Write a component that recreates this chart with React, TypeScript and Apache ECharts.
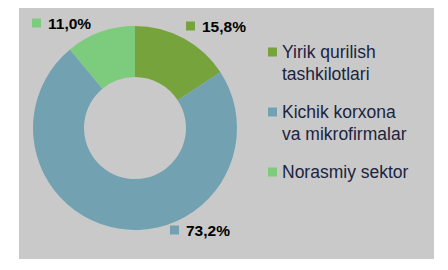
import React, { useEffect, useRef } from "react";
import * as echarts from "echarts";

const categories = ["Yirik qurilish tashkilotlari", "Kichik korxona va mikrofirmalar", "Norasmiy sektor"];
const legendLines = [["Yirik qurilish", "tashkilotlari"], ["Kichik korxona", "va mikrofirmalar"], ["Norasmiy sektor"]];
const values = [15.8, 73.2, 11.0];
const colors = ["#76a33c", "#72a2b1", "#7dcb7c"];

const labelPos = [
  { x: 186, y: 26 },
  { x: 170, y: 230 },
  { x: 32, y: 23 },
];
const legendTops = [19, 79, 161];

export default function App() {
  const ref = useRef<HTMLDivElement>(null);
  useEffect(() => {
    if (!ref.current) return;
    const chart = echarts.init(ref.current, undefined, { renderer: "svg" });
    const rich: any = {
      v: { fontFamily: "Liberation Sans", fontSize: 15.5, fontWeight: "bold", color: "#000", padding: [0, 0, 0, 7] },
    };
    colors.forEach((c, i) => {
      rich["m" + i] = { width: 9, height: 9, backgroundColor: c };
    });
    const legends = categories.map((name, i) => ({
      orient: "vertical",
      left: 268,
      top: legendTops[i],
      padding: 0,
      itemWidth: 9,
      itemHeight: 9,
      icon: "rect",
      selectedMode: false,
      data: [name],
      textStyle: {
        fontFamily: "Liberation Sans",
        fontSize: 17.5,
        color: "#1b2440",
        lineHeight: 22,
      },
      formatter: (n: string) => {
        const lines = legendLines[categories.indexOf(n)];
        return lines.length > 1 ? "\n" + lines.join("\n") : lines[0];
      },
    }));
    chart.setOption({
      animation: false,
      backgroundColor: "#ffffff",
      graphic: [
        { type: "rect", z: -10, shape: { x: 19, y: 8, width: 415, height: 251 }, style: { fill: "#c9c9c9" } },
      ],
      legend: legends,
      series: [
        {
          type: "pie",
          center: [135, 128],
          radius: [51, 102],
          startAngle: 90,
          clockwise: true,
          avoidLabelOverlap: false,
          labelLine: { show: false },
          label: {
            show: true,
            position: "outside",
            formatter: (p: any) => `{m${p.dataIndex}|}{v|${p.value.toFixed(1).replace(".", ",")}%}`,
            rich,
          },
          labelLayout: (p: any) => ({
            x: labelPos[p.dataIndex].x,
            y: labelPos[p.dataIndex].y,
            align: "left",
            verticalAlign: "middle",
          }),
          emphasis: { disabled: true },
          data: categories.map((name, i) => ({ name, value: values[i], itemStyle: { color: colors[i] } })),
        },
      ],
    });
    return () => chart.dispose();
  }, []);
  return <div ref={ref} style={{ position: "fixed", left: 0, top: 0, width: 448, height: 270 }} />;
}
